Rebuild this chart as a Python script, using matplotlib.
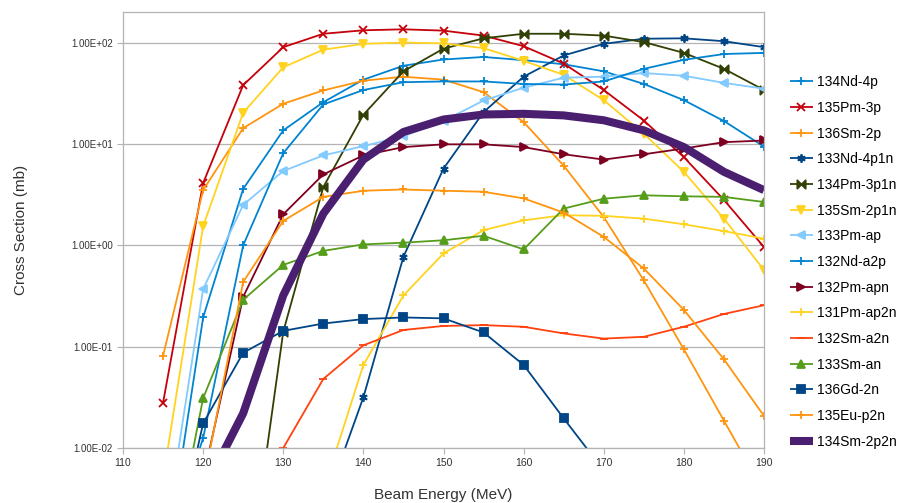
import numpy as np
import matplotlib
matplotlib.use("Agg")
import matplotlib.pyplot as plt
from matplotlib.path import Path
from matplotlib.ticker import FixedLocator, FuncFormatter, NullLocator

plt.rcParams['font.family'] = ['Liberation Sans', 'DejaVu Sans']

nan = np.nan
energy = [115, 120, 125, 130, 135, 140, 145, 150, 155, 160, 165, 170, 175, 180, 185, 190]

nd134_4p = [0.0005, 0.194, 3.6, 13.6, 25.8, 43, 59, 68, 72, 67, 61, 52, 39, 27, 16.8, 9.4]
pm135_3p = [0.028, 4.1, 38, 90, 122, 132, 135, 131, 117, 92, 62, 34, 17, 7.4, 2.8, 0.96]
sm136_2p = [0.081, 3.5, 14.3, 24.9, 33.7, 42, 46, 43, 32.4, 16.4, 6.1, 1.9, 0.45, 0.094, 0.0186, 0.0037]
nd133_4p1n = [nan, nan, nan, nan, 0.0025, 0.0316, 0.77, 5.7, 20.6, 46, 74.5, 97, 109, 110, 103, 90]
pm134_3p1n = [nan, nan, 0.0002, 0.14, 3.75, 19.4, 52, 87, 110, 122, 122, 117, 101, 79, 55, 34]
sm135_2p1n = [0.005, 1.54, 20.3, 57, 85, 97, 100, 98, 88, 66, 48, 27, 12.6, 5.3, 1.83, 0.57]
pm133_ap = [0.001, 0.37, 2.5, 5.4, 7.7, 9.5, 11.9, 16.8, 26.8, 35.8, 45, 46, 50, 47, 40, 35]
nd132_a2p = [0.0008, 0.0125, 1.0, 8.1, 24.5, 34, 40.6, 41.3, 41.3, 39, 38.5, 41.3, 55, 67.5, 77, 79]
pm132_apn = [nan, 0.005, 0.31, 2.02, 5.0, 7.7, 9.3, 9.9, 9.9, 9.3, 7.9, 7.0, 7.9, 9.0, 10.4, 10.8]
pm131_ap2n = [nan, nan, nan, nan, 0.0038, 0.066, 0.32, 0.83, 1.41, 1.76, 1.98, 1.95, 1.83, 1.61, 1.38, 1.16]
sm132_a2n = [nan, nan, nan, 0.01, 0.048, 0.103, 0.146, 0.16, 0.163, 0.157, 0.135, 0.12, 0.125, 0.157, 0.21, 0.256]
sm133_an = [0.0003, 0.031, 0.29, 0.64, 0.88, 1.02, 1.06, 1.12, 1.24, 0.91, 2.3, 2.88, 3.11, 3.04, 3.0, 2.67]
gd136_2n = [0.0003, 0.0175, 0.087, 0.143, 0.169, 0.187, 0.194, 0.19, 0.138, 0.066, 0.0196, 0.006, nan, nan, nan, nan]
eu135_p2n = [nan, 0.0044, 0.435, 1.74, 3.0, 3.45, 3.55, 3.45, 3.37, 2.9, 2.1, 1.21, 0.59, 0.23, 0.075, 0.0207]
sm134_2p2n = [nan, 0.0037, 0.022, 0.32, 2.05, 7.0, 13.1, 17.4, 19.5, 19.8, 19.1, 17.1, 13.6, 9.3, 5.3, 3.5]

x_ticks = [110, 120, 130, 140, 150, 160, 170, 180, 190]
y_ticks = [0.01, 0.1, 1, 10, 100]

bowtie = Path([(-1, -1), (-1, 1), (0, 0), (-1, -1), (1, -1), (1, 1), (0, 0), (1, -1)],
              [Path.MOVETO, Path.LINETO, Path.LINETO, Path.CLOSEPOLY,
               Path.MOVETO, Path.LINETO, Path.LINETO, Path.CLOSEPOLY])

series = [
    ("134Nd-4p", nd134_4p, "#0084d1", "+", 1.3),
    ("135Pm-3p", pm135_3p, "#c5000b", "x", 1.3),
    ("136Sm-2p", sm136_2p, "#ff950e", "+", 1.3),
    ("133Nd-4p1n", nd133_4p1n, "#004586", (6, 2, 0), 1.3),
    ("134Pm-3p1n", pm134_3p1n, "#314004", bowtie, 1.3),
    ("135Sm-2p1n", sm135_2p1n, "#ffd320", "v", 1.3),
    ("133Pm-ap", pm133_ap, "#83caff", "<", 1.3),
    ("132Nd-a2p", nd132_a2p, "#0084d1", "+", 1.3),
    ("132Pm-apn", pm132_apn, "#7e0021", ">", 1.3),
    ("131Pm-ap2n", pm131_ap2n, "#ffd320", "+", 1.3),
    ("132Sm-a2n", sm132_a2n, "#ff420e", "_", 1.3),
    ("133Sm-an", sm133_an, "#579d1c", "^", 1.3),
    ("136Gd-2n", gd136_2n, "#004586", "s", 1.3),
    ("135Eu-p2n", eu135_p2n, "#ff950e", "+", 1.3),
    ("134Sm-2p2n", sm134_2p2n, "#4b1f6f", None, 5.8),
]

fig = plt.figure(figsize=(9.09, 5.03), dpi=100)
ax = fig.add_axes([123 / 909, 1 - 448 / 503, (764 - 123) / 909, (448 - 12) / 503])

handles = []
for name, vals, color, marker, lw in series:
    ms = 6 if marker not in ("s",) else 5.5
    if marker == "x":
        ms = 5.5
    h, = ax.plot(energy, vals, color=color, lw=lw, marker=marker, ms=ms,
                 mew=1.3, label=name, solid_capstyle='butt', clip_on=True)
    handles.append(h)

ax.set_yscale('log')
ax.set_xlim(110, 190)
ax.set_ylim(0.01, 200)
ax.yaxis.set_major_locator(FixedLocator(y_ticks))
ax.yaxis.set_minor_locator(NullLocator())
ax.yaxis.set_major_formatter(FuncFormatter(lambda v, p: f"{v:.2E}"))
ax.xaxis.set_major_locator(FixedLocator(x_ticks))
ax.grid(axis='y', color='#b3b3b3', lw=0.9)
ax.set_axisbelow(True)
for s in ax.spines.values():
    s.set_color('#b3b3b3')
    s.set_linewidth(0.9)
ax.tick_params(axis='both', colors='#b3b3b3', labelcolor='#333333', length=4, width=0.8)
ax.tick_params(axis='y', labelsize=7)
ax.tick_params(axis='x', labelsize=7.5)

ax.set_xlabel("Beam Energy (MeV)", fontsize=11, color='#333333', labelpad=14)
ax.set_ylabel("Cross Section (mb)", fontsize=11, color='#333333', labelpad=31)

fig.legend(handles=handles, loc='center left', bbox_to_anchor=(784 / 909, 1 - 262 / 503),
           frameon=False, fontsize=10, handlelength=1.7, handletextpad=0.3,
           labelspacing=0.84, borderaxespad=0)

fig.savefig("out.png", dpi=100)
